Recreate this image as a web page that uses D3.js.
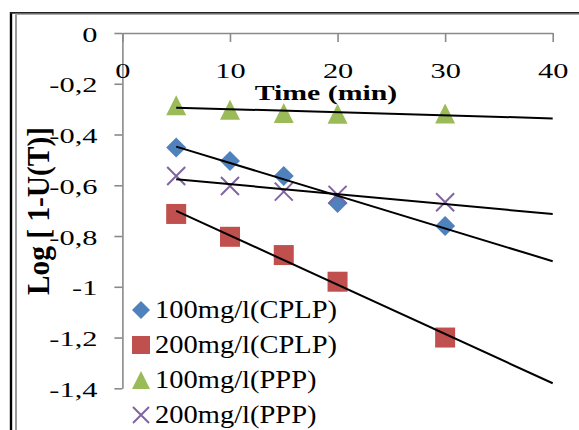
<!DOCTYPE html>
<html>
<head>
<meta charset="utf-8">
<script src="https://cdn.jsdelivr.net/npm/d3@7"></script>
<style>
  html, body { margin: 0; padding: 0; background: #fff; }
  svg { display: block; }
  text { font-family: "Liberation Serif", "Times New Roman", serif; fill: #000; }
</style>
</head>
<body>
<svg id="chart" width="579" height="430"></svg>
<script>
// Sampling times (min)
const times = [5, 10, 15, 20, 30];

// Log[1-U(T)] for each run
const cplp100 = [-0.451, -0.504, -0.563, -0.670, -0.760];
const cplp200 = [-0.713, -0.803, -0.875, -0.980, -1.200];
const ppp100  = [-0.285, -0.302, -0.315, -0.318, -0.317];
const ppp200  = [-0.5635, -0.603, -0.625, -0.638, -0.667];

const seriesNames  = ["100mg/l(CPLP)", "200mg/l(CPLP)", "100mg/l(PPP)", "200mg/l(PPP)"];
const seriesColors = ["#4F81BD", "#C0504D", "#9BBB59", "#8064A2"];
const seriesShapes = ["diamond", "square", "triangle", "cross"];
const seriesValues = [cplp100, cplp200, ppp100, ppp200];

const xTicks = [0, 10, 20, 30, 40];
const yTicks = [0, -0.2, -0.4, -0.6, -0.8, -1, -1.2, -1.4];
const xTitle = "Time (min)";
const yTitle = "Log [ 1-U(T)]";

const svg = d3.select("#chart");

const x = d3.scaleLinear().domain([0, 40]).range([122.4, 552.7]);
const y = d3.scaleLinear().domain([-1.4, 0]).range([388.3, 33]);

// chart frame: dark outer edge with a lighter inner edge
svg.append("line").attr("x1", 11).attr("x2", 11).attr("y1", 12).attr("y2", 430)
  .attr("stroke", "#000").attr("stroke-width", 2.4);
svg.append("line").attr("x1", 10).attr("x2", 579).attr("y1", 12.8).attr("y2", 12.8)
  .attr("stroke", "#222").attr("stroke-width", 1.8);
svg.append("line").attr("x1", 16).attr("x2", 16).attr("y1", 14).attr("y2", 430)
  .attr("stroke", "#999").attr("stroke-width", 2);
svg.append("line").attr("x1", 15).attr("x2", 579).attr("y1", 14.4).attr("y2", 14.4)
  .attr("stroke", "#aaa").attr("stroke-width", 1.2);

// place a text at (ax, ay) and widen it horizontally by k around that anchor
function placeWide(sel, ax, ay, k) {
  sel.attr("x", 0).attr("y", 0).attr("dy", null)
    .attr("transform", `translate(${ax},${ay}) scale(${k},1)`);
}
const fmt = v => (v === 0 ? "0" : String(v).replace(".", ","));

// y axis
const yAxis = svg.append("g").attr("transform", `translate(${x(0)},0)`)
  .call(d3.axisLeft(y).tickValues(yTicks).tickSize(8).tickSizeOuter(0).tickFormat(fmt));
yAxis.select(".domain").attr("stroke", "#8a8a8a").attr("stroke-width", 1.6);
yAxis.selectAll(".tick line").attr("stroke", "#8a8a8a").attr("stroke-width", 1.6);
yAxis.selectAll(".tick text")
  .style("font-family", "Liberation Serif").style("font-size", "22px").attr("fill", "#000")
  .attr("text-anchor", "end")
  .call(placeWide, -25, 8, 1.38);

// x axis along value 0
const xAxis = svg.append("g").attr("transform", `translate(0,${y(0)})`)
  .call(d3.axisBottom(x).tickValues(xTicks).tickSize(9).tickSizeOuter(0).tickFormat(d3.format("d")));
xAxis.select(".domain").attr("stroke", "#8a8a8a").attr("stroke-width", 1.6);
xAxis.selectAll(".tick line").attr("stroke", "#8a8a8a").attr("stroke-width", 1.6);
xAxis.selectAll(".tick text")
  .style("font-family", "Liberation Serif").style("font-size", "22px").attr("fill", "#000")
  .attr("text-anchor", "middle")
  .call(placeWide, 0, 45, 1.38);

// axis titles
svg.append("text").attr("text-anchor", "middle")
  .style("font-size", "21px").style("font-weight", "bold").text(xTitle)
  .call(placeWide, 326, 100, 1.42);

svg.append("text")
  .attr("transform", "translate(49,211) rotate(-90) scale(1,1.4)")
  .attr("text-anchor", "middle")
  .style("font-size", "23px").style("font-weight", "bold").text(yTitle)
  .attr("textLength", 168).attr("lengthAdjust", "spacingAndGlyphs");

// marker shapes centred on their bounding box
function markerPath(shape, s) {
  const h = s / 2;
  switch (shape) {
    case "diamond": return `M0,${-h}L${h},0L0,${h}L${-h},0Z`;
    case "square": return `M${-h},${-h}H${h}V${h}H${-h}Z`;
    case "triangle": return `M0,${-h}L${h},${h}L${-h},${h}Z`;
    case "cross": return `M${-h},${-h}L${h},${h}M${h},${-h}L${-h},${h}`;
  }
}
function drawMarker(g, shape, color, s) {
  const p = g.append("path").attr("d", markerPath(shape, s));
  if (shape === "cross") p.attr("fill", "none").attr("stroke", color).attr("stroke-width", 2);
  else p.attr("fill", color);
}

// data markers
seriesValues.forEach((vals, i) => {
  const g = svg.append("g");
  vals.forEach((v, j) => {
    const m = g.append("g").attr("transform", `translate(${x(times[j])},${y(v)})`);
    drawMarker(m, seriesShapes[i], seriesColors[i], i === 3 ? 18 : 20);
  });
});

// least-squares trendlines, drawn from the first sample to t = 40
function fit(xs, ys) {
  const mx = d3.mean(xs), my = d3.mean(ys);
  const sxy = d3.sum(xs, (v, k) => (v - mx) * (ys[k] - my));
  const sxx = d3.sum(xs, v => (v - mx) * (v - mx));
  const b = sxy / sxx;
  return t => my + b * (t - mx);
}
const line = d3.line().x(d => x(d[0])).y(d => y(d[1]));
seriesValues.forEach(vals => {
  const f = fit(times, vals);
  svg.append("path")
    .attr("d", line([[times[0], f(times[0])], [40, f(40)]]))
    .attr("fill", "none").attr("stroke", "#000").attr("stroke-width", 2);
});

// legend
const legend = svg.append("g");
seriesNames.forEach((name, i) => {
  const cy = 310 + i * 35;
  const m = legend.append("g").attr("transform", `translate(141,${cy})`);
  drawMarker(m, seriesShapes[i], seriesColors[i], i === 3 ? 16 : 18);
  legend.append("text").style("font-size", "25px").text(name)
    .call(placeWide, 155, cy + 8, 1.14);
});
</script>
</body>
</html>
